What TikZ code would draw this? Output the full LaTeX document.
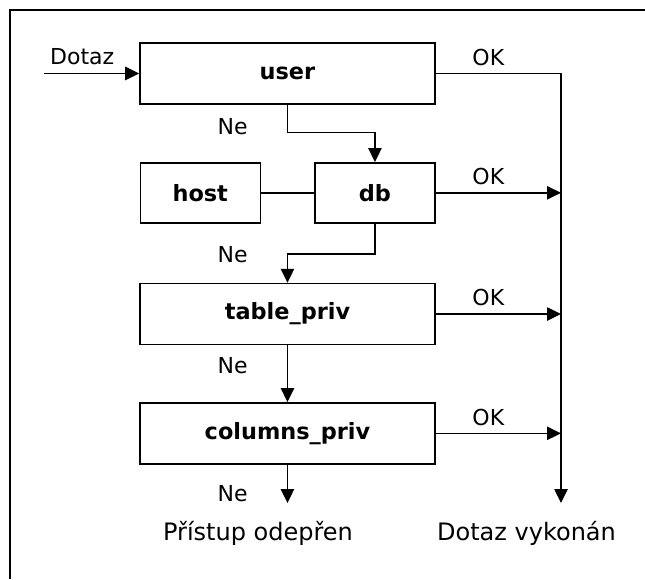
\documentclass[tikz,border=0pt]{standalone}
\usepackage{fontspec}
\setmainfont{DejaVu Sans}
\usepackage{tikz}
\usetikzlibrary{arrows.meta, positioning}

\tikzset{
    widebox/.style={draw, rectangle, line width=1.1pt, minimum width=221.25pt, minimum height=45.75pt, font=\fontsize{16.8pt}{20pt}\selectfont\bfseries},
    smallbox/.style={widebox, minimum width=90pt, minimum height=45pt},
    lbl/.style={font=\fontsize{16.5pt}{19pt}\selectfont},
    endlbl/.style={font=\fontsize{18pt}{21pt}\selectfont},
    flow/.style={line width=1.1pt, -{Triangle[length=10.5pt, width=10pt]}},
}

\begin{document}
\begin{tikzpicture}[node distance=89.5pt]
    \useasboundingbox[fill=white] (0,0) rectangle (483.75pt,-434.25pt);
    \draw[line width=1.5pt] (483.75pt,-7.5pt) -- (7.5pt,-7.5pt) -- (7.5pt,-434.25pt);

    \node[widebox] (user) at (215.6pt,-55.1pt) {user};
    \node[smallbox, below of=user, xshift=65.6pt] (db) {db};
    \node[smallbox, left of=db, node distance=131pt] (host) {host};
    \node[widebox, below of=db, xshift=-65.6pt, yshift=-1.4pt] (table) {table\_priv};
    \node[widebox, below of=table] (columns) {columns\_priv};

    \coordinate[xshift=-71.25pt] (in) at (user.west);
    \coordinate (done) at (420.75pt,-377.25pt);
    \coordinate (deny) at (columns.south |- done);

    \node[endlbl] (denied) at ([xshift=-22.1pt, yshift=-22.5pt]deny) {Přístup odepřen};
    \node[endlbl] (executed) at ([xshift=-25.9pt, yshift=-22.5pt]done) {Dotaz vykonán};

    \draw[flow] (in) -- node[lbl, above=2.5pt, pos=0.4] {Dotaz} (user.west);
    \draw[flow] (user.east) -| node[lbl, above=2pt, pos=0.21] {OK} (done);
    \draw[flow] (user.south) -- node[lbl, left=26pt, pos=0.8] {Ne} ++(0,-21pt) -| (db.north);
    \draw[line width=1.1pt] (host) -- (db);
    \draw[flow] (db.east) -- node[lbl, above=2pt, pos=0.42] {OK} (db.east -| done);
    \draw[flow] (db.south) -- ++(0,-23pt) -| node[lbl, pos=0.5, left=26pt] {Ne} (table.north);
    \draw[flow] (table.east) -- node[lbl, above=2pt, pos=0.42] {OK} (table.east -| done);
    \draw[flow] (table.south) -- node[lbl, left=26pt, pos=0.35] {Ne} (columns.north);
    \draw[flow] (columns.east) -- node[lbl, above=2pt, pos=0.42] {OK} (columns.east -| done);
    \draw[flow] (columns.south) -- node[lbl, left=26pt, pos=0.75] {Ne} (deny);
\end{tikzpicture}
\end{document}
